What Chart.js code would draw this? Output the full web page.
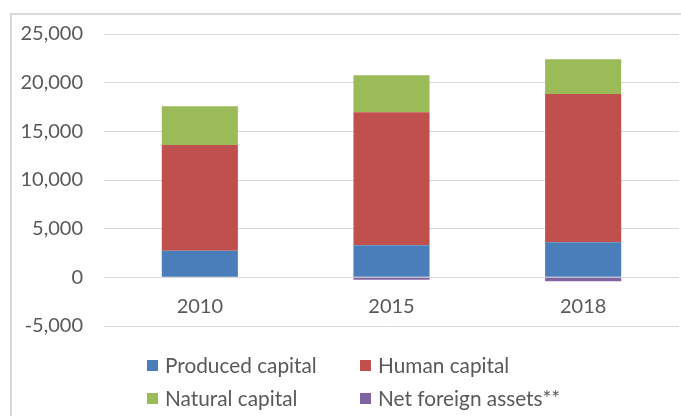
<!DOCTYPE html>
<html>
<head>
<meta charset="utf-8">
<script src="https://cdn.jsdelivr.net/npm/chart.js@4/dist/chart.umd.min.js"></script>
<style>
  html, body { margin: 0; padding: 0; background: #fff; overflow: hidden; }
  #frame { position: absolute; left: 10px; top: 13px; width: 800px; height: 600px; border: 2px solid #d9d9d9; box-sizing: border-box; }
  #wrap { position: absolute; left: 0; top: 0; width: 681px; height: 416px; }
</style>
</head>
<body>
<div id="frame"></div>
<div id="wrap"><canvas id="c" width="681" height="416"></canvas></div>
<script>
const categories = ['2010', '2015', '2018'];
const producedCapital = [2730, 3290, 3600];
const humanCapital = [10860, 13660, 15230];
const naturalCapital = [3980, 3800, 3570];
const netForeignAssets = [0, -250, -400];
const seriesNames = ['Produced capital', 'Human capital', 'Natural capital', 'Net foreign assets**'];
const seriesColors = ['#4a7ebb', '#c0504d', '#9bbb59', '#8064a2'];
const yTicks = { min: -5000, max: 25000, step: 5000 };

const FONT = { family: 'Lato, "Open Sans", sans-serif', size: 20 };
const LEGEND_SIZE = 20.8;
const TEXT = '#595959';

const legendPlugin = {
  id: 'gridLegend',
  afterDraw(chart) {
    const ctx = chart.ctx;
    const cols = [147, 360];
    const rows = [365.5, 398.5];
    ctx.save();
    ctx.font = LEGEND_SIZE + 'px ' + FONT.family;
    ctx.textBaseline = 'middle';
    ctx.textAlign = 'left';
    chart.data.datasets.forEach((ds, i) => {
      const x = cols[i % 2], y = rows[Math.floor(i / 2)];
      ctx.fillStyle = ds.backgroundColor;
      ctx.fillRect(x, y - 5.5, 11, 11);
      ctx.fillStyle = TEXT;
      ctx.fillText(ds.label, x + 18, y + 0.5);
    });
    ctx.restore();
  }
};

const seriesData = [producedCapital, humanCapital, naturalCapital, netForeignAssets];

new Chart(document.getElementById('c'), {
  type: 'bar',
  data: {
    labels: categories,
    datasets: seriesData.map((d, i) => ({
      label: seriesNames[i],
      data: d,
      backgroundColor: seriesColors[i],
      borderWidth: 0,
      barPercentage: 0.397,
      categoryPercentage: 1.0
    }))
  },
  options: {
    responsive: false,
    animation: false,
    layout: { padding: { left: 0, right: 2, top: 34, bottom: 90 } },
    plugins: { legend: { display: false }, tooltip: { enabled: false } },
    scales: {
      x: {
        stacked: true,
        position: { y: 0 },
        grid: { display: false, drawTicks: false },
        border: { display: false },
        ticks: { color: TEXT, font: FONT, padding: 17, maxRotation: 0 }
      },
      y: {
        stacked: true,
        min: yTicks.min,
        max: yTicks.max,
        afterFit: s => { s.width = 104; },
        ticks: { stepSize: yTicks.step, color: TEXT, font: FONT, padding: 21 },
        grid: { color: '#d9d9d9', lineWidth: 1, drawTicks: false },
        border: { display: false }
      }
    }
  },
  plugins: [legendPlugin]
});
</script>
</body>
</html>
